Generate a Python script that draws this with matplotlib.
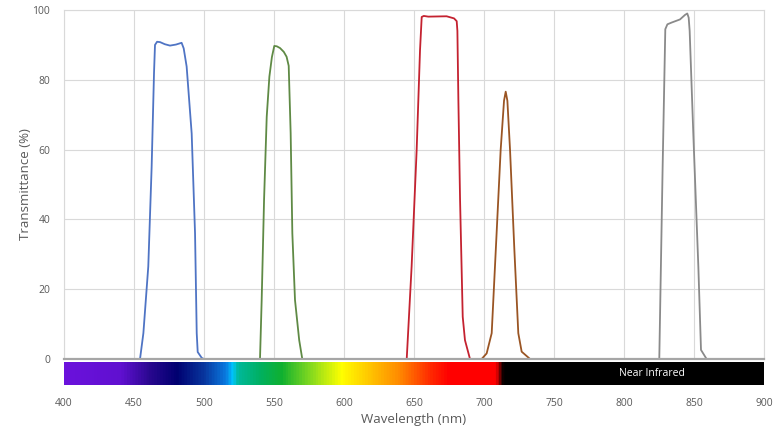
import numpy as np
import matplotlib
matplotlib.use('Agg')
import matplotlib.pyplot as plt
from matplotlib.colors import LinearSegmentedColormap

# Filter transmission curves (wavelength nm, transmittance %)
blue_wl = [454.3, 456.7, 460.2, 462.6, 464.3, 465.0, 466.5, 468.6, 472.0, 475.7, 480.0, 484.0, 485.5, 487.6, 491.2, 493.6, 494.8, 495.5, 498.4, 500.0]
blue_t = [0, 7.4, 26.5, 55.0, 82.0, 90.0, 90.9, 90.8, 90.2, 89.8, 90.1, 90.6, 89.0, 83.8, 64.6, 36.0, 7.4, 2.0, 0.3, 0]

green_wl = [540.0, 541.2, 542.9, 544.8, 546.7, 548.5, 550.2, 552.0, 554.3, 557.0, 559.0, 560.5, 561.9, 563.1, 565.0, 568.0, 570.2]
green_t = [0, 16.9, 45.6, 69.4, 80.9, 86.5, 89.7, 89.6, 89.1, 88.0, 86.6, 84.0, 64.7, 36.0, 16.9, 5.4, 0]

red_wl = [644.8, 648.3, 651.9, 654.3, 655.5, 657.0, 660.2, 673.3, 678.6, 680.5, 681.0, 681.7, 682.9, 684.8, 686.4, 690.0]
red_t = [0, 26.5, 59.9, 88.5, 98.0, 98.3, 98.1, 98.2, 97.6, 96.8, 94.0, 74.2, 45.6, 12.1, 5.4, 0]

brown_wl = [698.3, 701.9, 705.5, 709.0, 711.9, 714.3, 715.5, 716.7, 718.6, 721.7, 724.5, 726.9, 732.9]
brown_t = [0, 1.6, 7.4, 36.0, 59.9, 74.0, 76.6, 74.0, 59.9, 31.2, 7.4, 2.1, 0]

gray_wl = [825.2, 827.6, 829.5, 831.0, 834.0, 840.0, 843.6, 845.2, 846.2, 846.9, 849.5, 853.1, 855.0, 859.0]
gray_t = [0, 55.1, 94.5, 95.9, 96.4, 97.3, 98.6, 99.0, 97.8, 94.0, 64.6, 26.5, 2.6, 0]

# visible spectrum colour stops
spec_wl = [400, 440, 460, 480, 500, 515, 520, 524, 540, 555, 575, 598, 620, 640, 660, 675, 709, 714, 900]
spec_col = ['#6b12dc', '#6010d0', '#2a0890', '#000070', '#0838a0', '#0a7ae0', '#00c8ff', '#00b89a',
            '#00b060', '#10b030', '#80d820', '#ffff00', '#ffc000', '#ff8800', '#ff3000', '#ff0000',
            '#ff0000', '#000000', '#000000']

curves = [(blue_wl, blue_t, '#4f74c4'),
          (green_wl, green_t, '#5f8a45'),
          (red_wl, red_t, '#c42230'),
          (brown_wl, brown_t, '#9a5524'),
          (gray_wl, gray_t, '#8a8a8a')]

txt = '#595959'
plt.rcParams['font.family'] = ['Open Sans', 'DejaVu Sans']

fig = plt.figure(figsize=(7.84, 4.26), dpi=100)
ax = fig.add_axes([64 / 784, 1 - 359 / 426, 700 / 784, 349 / 426])

for wl, t, c in curves:
    ax.plot(wl, t, color=c, lw=1.3, zorder=3, solid_joinstyle='round')

ax.set_xlim(400, 900)
ax.set_ylim(0, 100)
ax.set_xticks(np.arange(400, 901, 50))
ax.set_yticks(np.arange(0, 101, 20))
ax.grid(True, color='#d9d9d9', lw=0.8)
ax.set_axisbelow(True)
for s in ['top', 'right', 'left']:
    ax.spines[s].set_color('#d9d9d9')
    ax.spines[s].set_linewidth(0.8)
ax.spines['bottom'].set_color('#a6a6a6')
ax.spines['bottom'].set_linewidth(1.6)
ax.spines['bottom'].set_zorder(4)
ax.tick_params(axis='x', length=0, pad=28, labelsize=7.5, labelcolor=txt)
ax.tick_params(axis='y', length=0, pad=10, labelsize=7.5, labelcolor=txt)
ax.set_xlabel('Wavelength (nm)', fontsize=9.5, color=txt, labelpad=3)
ax.set_ylabel('Transmittance (%)', fontsize=9.5, color=txt, labelpad=0)

# spectrum bar
cmap = LinearSegmentedColormap.from_list(
    'spec', [((w - 400) / 500, c) for w, c in zip(spec_wl, spec_col)])
bar = ax.inset_axes([0, -26 / 349, 1, 23 / 349])
grad = np.linspace(400, 900, 1000).reshape(1, -1)
bar.imshow(grad, aspect='auto', cmap=cmap, vmin=400, vmax=900, extent=[400, 900, 0, 1])
bar.set_xlim(400, 900)
bar.set_axis_off()
bar.text(820, 0.5, 'Near Infrared', color='white', fontsize=7.5, ha='center', va='center')

fig.savefig('out.png', dpi=100)
